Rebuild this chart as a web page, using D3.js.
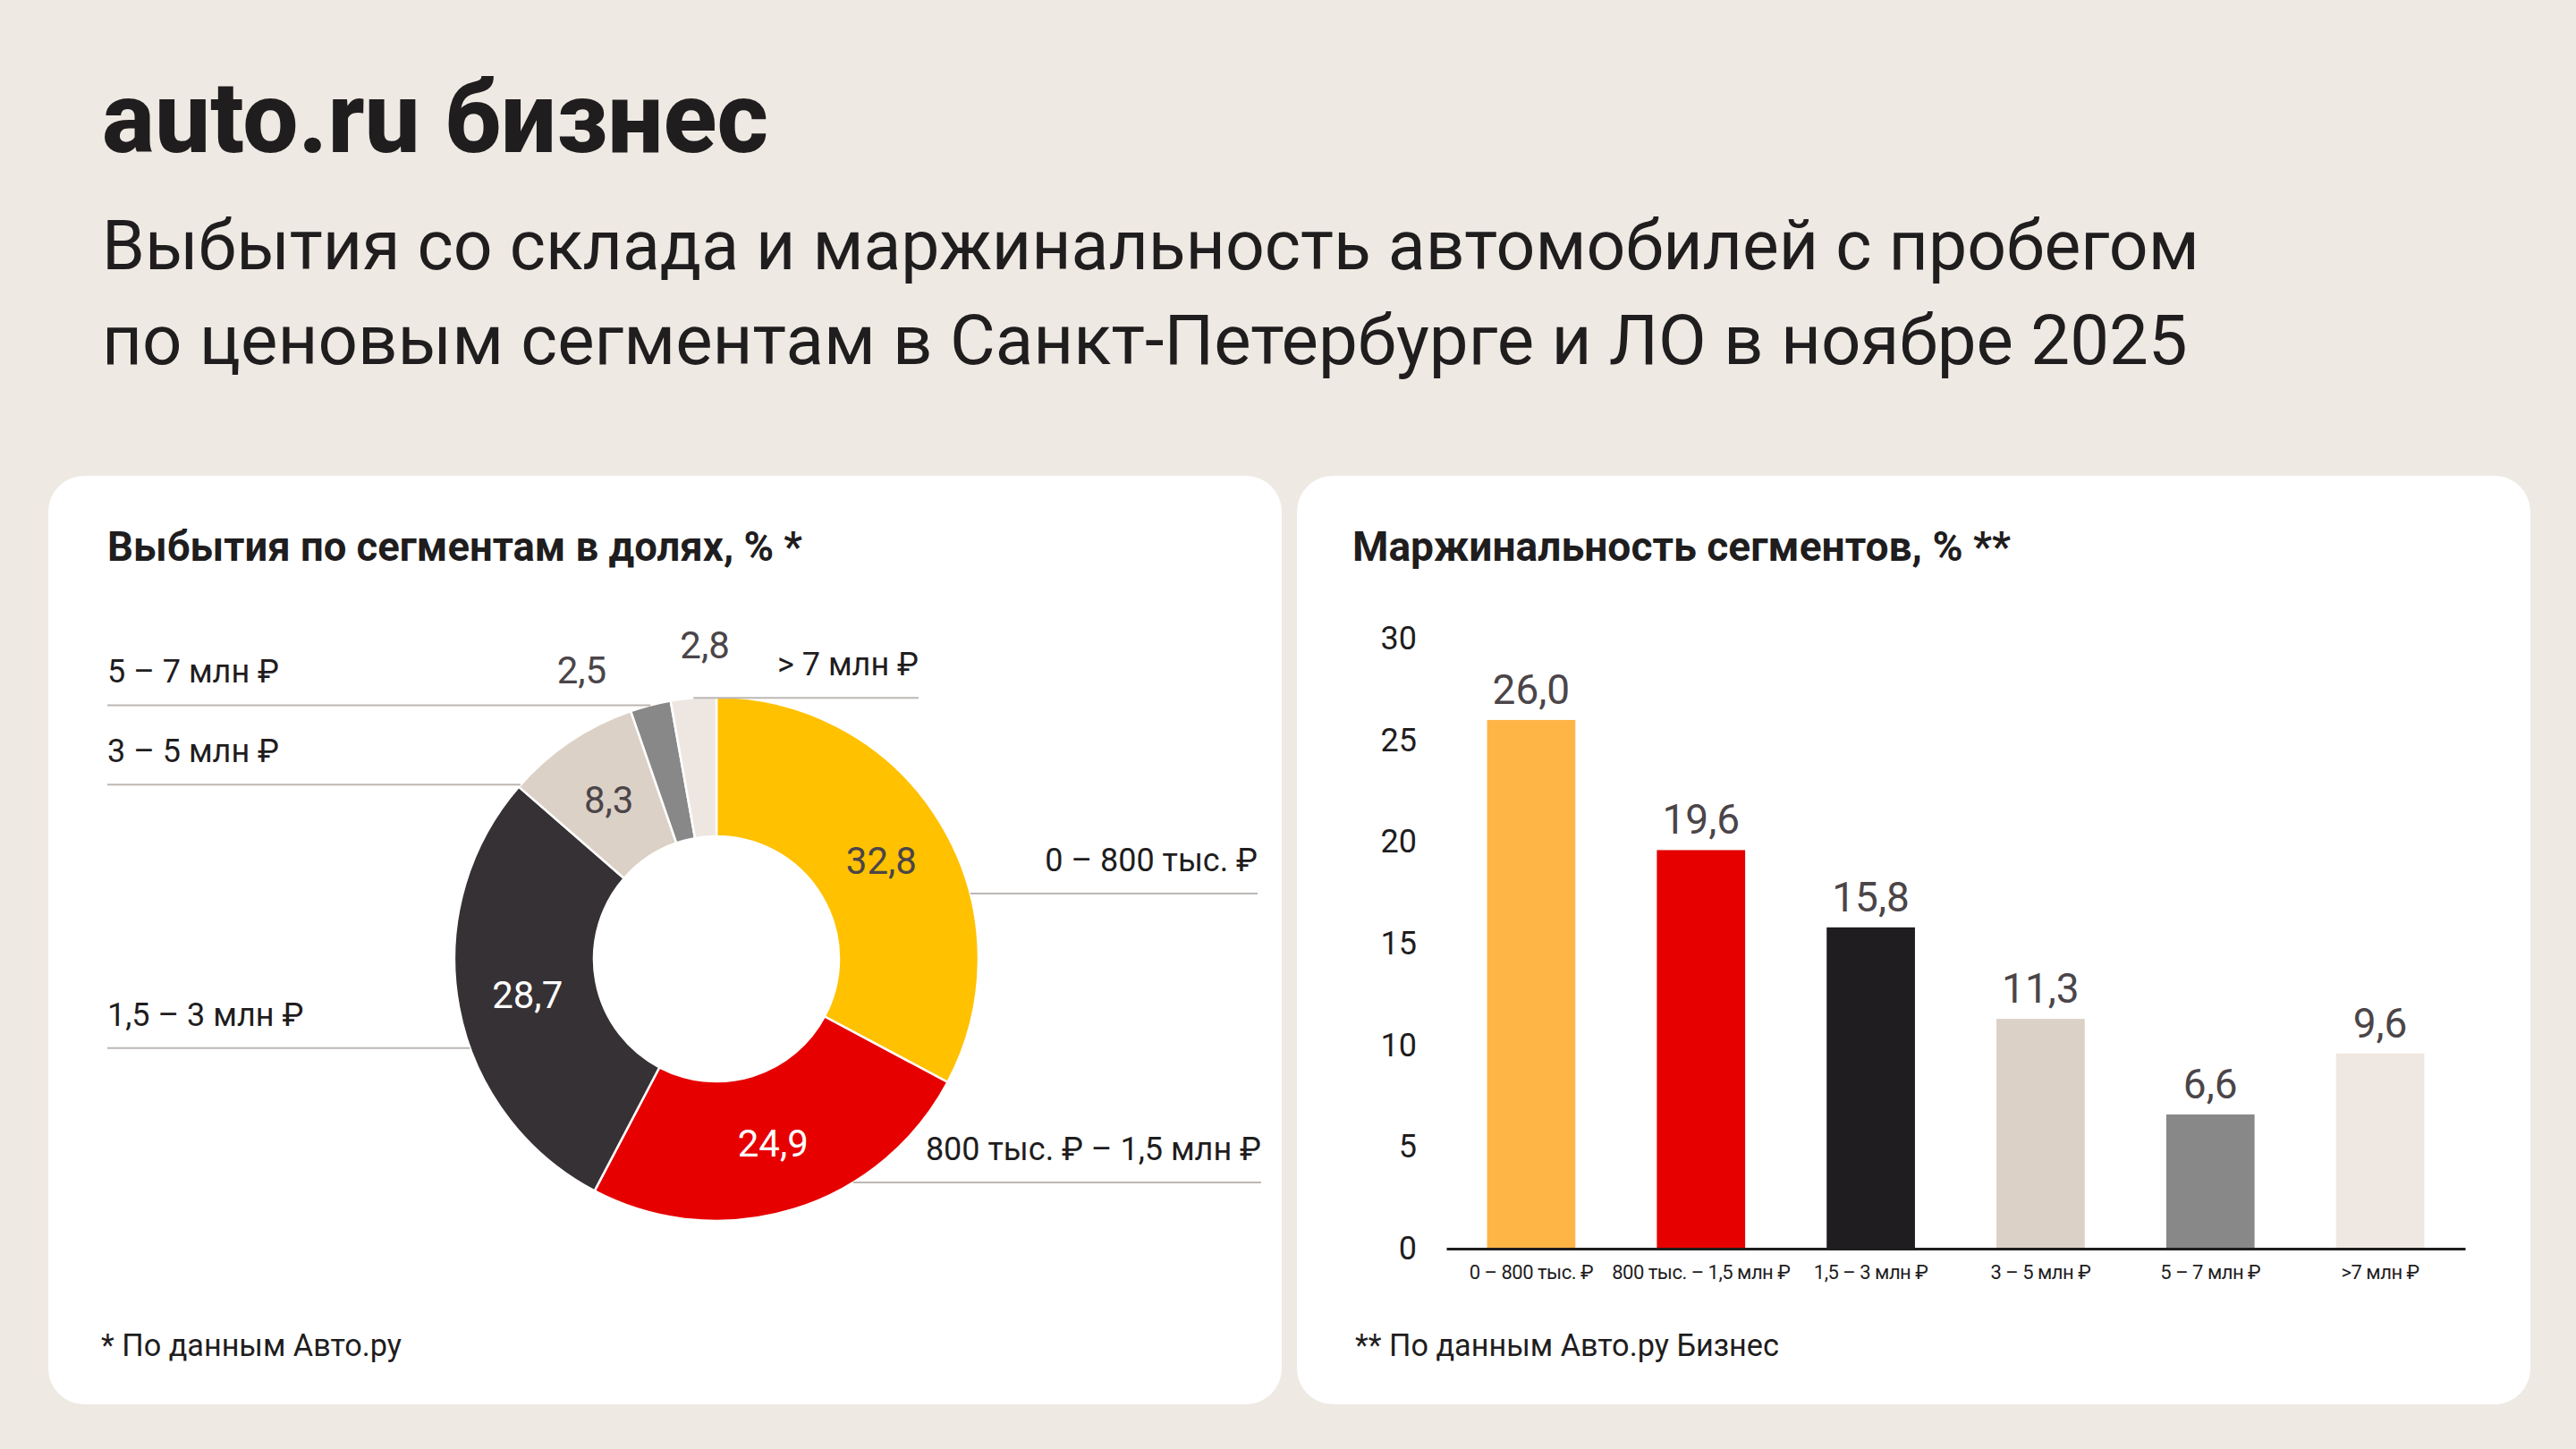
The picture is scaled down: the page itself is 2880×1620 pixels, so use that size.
<!DOCTYPE html>
<html lang="ru">
<head>
<meta charset="utf-8">
<script src="https://cdn.jsdelivr.net/npm/d3@7"></script>
<style>
  html, body { margin: 0; padding: 0; background: #efe9e3; }
  svg { display: block; font-family: Roboto, "Noto Sans", sans-serif; }
</style>
</head>
<body>
<svg id="chart" width="2880" height="1620"></svg>
<script>
// donut: share of sales by price segment
var segments = ['0 – 800 тыс. ₽', '800 тыс. ₽ – 1,5 млн ₽', '1,5 – 3 млн ₽', '3 – 5 млн ₽', '5 – 7 млн ₽', '> 7 млн ₽'];
var shareValues = [32.8, 24.9, 28.7, 8.3, 2.5, 2.8];

// bars: margin by segment
var barLabels = ['0 – 800 тыс. ₽', '800 тыс. – 1,5 млн ₽', '1,5 – 3 млн ₽', '3 – 5 млн ₽', '5 – 7 млн ₽', '>7 млн ₽'];
var marginValues = [26.0, 19.6, 15.8, 11.3, 6.6, 9.6];
var yTicks = [0, 5, 10, 15, 20, 25, 30];

var pieColors = ['#ffc100', '#e60000', '#363135', '#dcd1c6', '#888888', '#eee7e1'];
var barColors = ['#ffb446', '#e60000', '#1f1d20', '#dcd1c6', '#888888', '#efe7e1'];
var ink = '#1f1d1e', numInk = '#4b4549';

var fmt = function(v) { return v.toFixed(1).replace('.', ','); };

var svg = d3.select('#chart');

// fit a text node to a target width by changing its font size
function fit(sel, width) {
  var w = sel.node().getComputedTextLength();
  var fs = parseFloat(sel.attr('font-size'));
  sel.attr('font-size', (fs * width / w).toFixed(2));
}

// header
fit(svg.append('text').attr('x', 114).attr('y', 170)
  .attr('font-size', 100).attr('font-weight', 800).attr('fill', ink)
  .text('auto.ru бизнес'), 745);

fit(svg.append('text').attr('x', 114).attr('y', 301)
  .attr('font-size', 80).attr('font-weight', 400).attr('fill', ink)
  .text('Выбытия со склада и маржинальность автомобилей с пробегом'), 2345);
fit(svg.append('text').attr('x', 114).attr('y', 407)
  .attr('font-size', 80).attr('font-weight', 400).attr('fill', ink)
  .text('по ценовым сегментам в Санкт-Петербурге и ЛО в ноябре 2025'), 2332);

// cards
svg.append('rect').attr('x', 54).attr('y', 532).attr('width', 1379).attr('height', 1038)
  .attr('rx', 40).attr('fill', '#ffffff');
svg.append('rect').attr('x', 1450).attr('y', 532).attr('width', 1379).attr('height', 1038)
  .attr('rx', 40).attr('fill', '#ffffff');

fit(svg.append('text').attr('x', 120).attr('y', 627)
  .attr('font-size', 44).attr('font-weight', 700).attr('fill', ink)
  .text('Выбытия по сегментам в долях, % *'), 777);
fit(svg.append('text').attr('x', 1512).attr('y', 627)
  .attr('font-size', 44).attr('font-weight', 700).attr('fill', ink)
  .text('Маржинальность сегментов, % **'), 736);

fit(svg.append('text').attr('x', 113).attr('y', 1516)
  .attr('font-size', 34).attr('fill', ink)
  .text('* По данным Авто.ру'), 336);
fit(svg.append('text').attr('x', 1515).attr('y', 1516)
  .attr('font-size', 34).attr('fill', ink)
  .text('** По данным Авто.ру Бизнес'), 474);

// ---------- donut ----------
var cx = 801, cy = 1072, rOut = 293, rIn = 137;
var pie = d3.pie().sort(null).value(function(d) { return d; });
var arcs = pie(shareValues);
var arc = d3.arc().innerRadius(rIn).outerRadius(rOut);

var donut = svg.append('g').attr('transform', 'translate(' + cx + ',' + cy + ')');

donut.selectAll('path.slice').data(arcs).enter().append('path')
  .attr('class', 'slice')
  .attr('d', arc)
  .attr('fill', function(d, i) { return pieColors[i]; })
  .attr('stroke', '#ffffff').attr('stroke-width', 2.5);

// leader lines + category labels
var leaderT = [0.64, 0.34, 0.41, 0.02, 0.5, 0.5];
var leaderSide = ['right', 'right', 'left', 'left', 'left', 'right'];
var rightEnd = [1406, 1410, null, null, null, 1027];
var leftStart = 120;

arcs.forEach(function(a, i) {
  var ang = a.startAngle + (a.endAngle - a.startAngle) * leaderT[i];
  var px = cx + rOut * Math.sin(ang);
  var py = cy - rOut * Math.cos(ang);
  var x1, x2;
  if (leaderSide[i] === 'left') { x1 = leftStart; x2 = px; }
  else { x1 = px; x2 = rightEnd[i]; }
  svg.append('line').attr('x1', x1).attr('x2', x2).attr('y1', py).attr('y2', py)
    .attr('stroke', '#bcb7b3').attr('stroke-width', 2);
  svg.append('text')
    .attr('x', leaderSide[i] === 'left' ? leftStart : rightEnd[i])
    .attr('y', py - 25)
    .attr('text-anchor', leaderSide[i] === 'left' ? 'start' : 'end')
    .attr('font-size', 36).attr('fill', ink)
    .text(segments[i]);
});

// value labels
var labelArc = d3.arc().innerRadius((rIn + rOut) / 2).outerRadius((rIn + rOut) / 2);
var outArc = d3.arc().innerRadius(352).outerRadius(352);
var outNudge = { 4: [-62, 18], 5: [18, 0] };
var whiteText = [false, true, true, false];

donut.selectAll('text.val').data(arcs).enter().append('text')
  .attr('class', 'val')
  .attr('transform', function(d, i) {
    var c = d.data >= 5 ? labelArc.centroid(d) : outArc.centroid(d);
    if (d.data < 5) { c[0] += outNudge[i][0]; c[1] += outNudge[i][1]; }
    return 'translate(' + c[0] + ',' + c[1] + ')';
  })
  .attr('text-anchor', 'middle')
  .attr('dy', '0.36em')
  .attr('font-size', 42)
  .attr('fill', function(d, i) { return whiteText[i] ? '#ffffff' : numInk; })
  .text(function(d) { return fmt(d.data); });

// ---------- bars ----------
var x = d3.scaleBand().domain(barLabels).range([1617, 2756])
  .paddingInner(0.48).paddingOuter(0.24);
var y = d3.scaleLinear().domain([0, 30]).range([1396, 714]);

svg.selectAll('rect.bar').data(marginValues).enter().append('rect')
  .attr('class', 'bar')
  .attr('x', function(d, i) { return x(barLabels[i]); })
  .attr('y', function(d) { return y(d); })
  .attr('width', x.bandwidth())
  .attr('height', function(d) { return y(0) - y(d); })
  .attr('fill', function(d, i) { return barColors[i]; });

svg.selectAll('text.barval').data(marginValues).enter().append('text')
  .attr('class', 'barval')
  .attr('x', function(d, i) { return x(barLabels[i]) + x.bandwidth() / 2; })
  .attr('y', function(d) { return y(d) - 18; })
  .attr('text-anchor', 'middle')
  .attr('font-size', 46).attr('fill', numInk)
  .text(fmt);

var yAxis = svg.append('g').attr('transform', 'translate(1617,0)')
  .call(d3.axisLeft(y).tickValues(yTicks).tickSize(0).tickPadding(33));
yAxis.select('.domain').remove();
yAxis.selectAll('text').attr('font-size', 36).attr('fill', ink)
  .attr('font-family', 'Roboto, "Noto Sans", sans-serif');

var xAxis = svg.append('g').attr('transform', 'translate(0,' + y(0) + ')')
  .call(d3.axisBottom(x).tickSize(0).tickSizeOuter(0).tickPadding(18));
xAxis.select('.domain').attr('stroke', ink).attr('stroke-width', 3);
xAxis.selectAll('text').attr('font-size', 22).attr('fill', ink)
  .attr('letter-spacing', -0.5)
  .attr('font-family', 'Roboto, "Noto Sans", sans-serif');
</script>
</body>
</html>
